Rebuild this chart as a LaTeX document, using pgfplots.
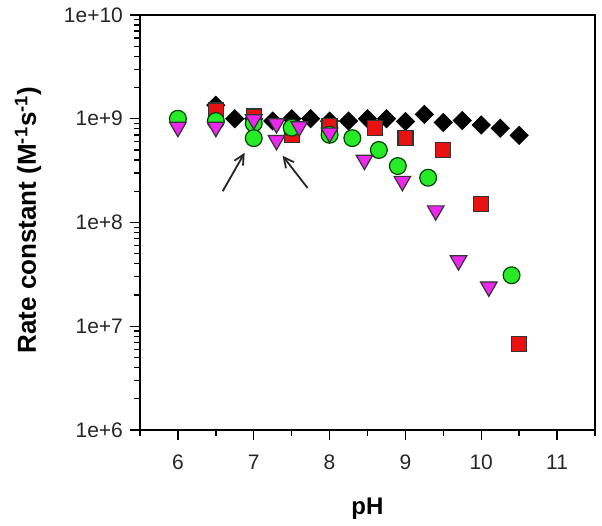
\documentclass[border=0pt]{standalone}
\usepackage{fontspec}
\setmainfont{Liberation Sans}
\usepackage{pgfplots}
\pgfplotsset{compat=1.18}
\usetikzlibrary{arrows.meta}

\definecolor{mkred}{RGB}{232,18,18}
\definecolor{mkgreen}{RGB}{40,235,40}
\definecolor{mkmag}{RGB}{235,40,235}

\begin{document}
\begin{tikzpicture}
\useasboundingbox (-70pt,-48pt) rectangle (231pt,215pt);
\begin{axis}[
    at={(0,0)}, anchor=south west,
    scale only axis,
    width=227.5pt, height=207.5pt,
    xmin=5.5, xmax=11.5,
    ymode=log, ymin=1e6, ymax=1e10,
    xtick={6,...,11},
    minor xtick={5.5,6.5,...,11.5},
    ytick={1e6,1e7,1e8,1e9,1e10},
    yticklabels={1e+6,1e+7,1e+8,1e+9,1e+10},
    minor ytick={2e6,3e6,4e6,5e6,6e6,7e6,8e6,9e6,
                 2e7,3e7,4e7,5e7,6e7,7e7,8e7,9e7,
                 2e8,3e8,4e8,5e8,6e8,7e8,8e8,9e8,
                 2e9,3e9,4e9,5e9,6e9,7e9,8e9,9e9},
    tick pos=left, tick align=outside,
    major tick length=5pt, minor tick length=3pt,
    every tick/.style={black, line width=0.7pt},
    axis line style={line width=0.8pt},
    tick label style={font=\fontsize{10.5}{12}\selectfont, text=black!85},
    xticklabel style={yshift=-4pt},
    /pgf/number format/assume math mode=true,
    xlabel={pH},
    ylabel={Rate constant (M\textsuperscript{-1}s\textsuperscript{-1})},
    label style={font=\fontsize{12}{14}\selectfont\bfseries},
    xlabel style={at={(axis description cs:0.5,-0.19)}, anchor=center},
    ylabel style={at={(axis description cs:-0.246,0.506)}, anchor=center,
        font=\fontsize{13}{15}\selectfont\bfseries},
]

% black diamonds
\addplot[only marks, mark=square*, mark size=3.2pt,
    mark options={rotate=45, fill=black, draw=black}]
    coordinates {
    (6.5,1.35e9)(6.75,1.0e9)(7.0,1.0e9)(7.25,9.5e8)(7.5,1.0e9)(7.75,1.0e9)
    (8.0,9.5e8)(8.25,9.5e8)(8.5,1.0e9)(8.75,1.0e9)(9.0,9.4e8)(9.25,1.1e9)
    (9.5,9.2e8)(9.75,9.6e8)(10.0,8.7e8)(10.25,8.1e8)(10.5,6.9e8)
    };

% red squares
\addplot[only marks, mark=square*, mark size=3.75pt,
    mark options={fill=mkred, draw=black!80, line width=0.6pt}]
    coordinates {
    (6.5,1.2e9)(7.0,1.05e9)(7.5,7.0e8)(8.0,8.5e8)(8.6,8.2e8)(9.0,6.5e8)
    (9.5,5.0e8)(10.0,1.5e8)(10.5,6.8e6)
    };

% green circles
\addplot[only marks, mark=*, mark size=4.2pt,
    mark options={fill=mkgreen, draw=black!75!green, line width=0.6pt}]
    coordinates {
    (6.0,1.0e9)(6.5,9.5e8)(7.0,9.0e8)(7.0,6.5e8)(7.5,8.2e8)(8.0,7.0e8)
    (8.3,6.5e8)(8.65,5.0e8)(8.9,3.5e8)(9.3,2.7e8)(10.4,3.1e7)
    };

% magenta triangles
\addplot[only marks, mark=triangle*, mark size=4.8pt,
    mark options={rotate=180, fill=mkmag, draw=black!80, line width=0.6pt}]
    coordinates {
    (6.0,8.3e8)(6.5,8.3e8)(7.0,9.8e8)(7.3,9.0e8)(7.3,6.2e8)(7.6,8.4e8)
    (8.0,7.3e8)(8.46,4.0e8)(8.96,2.5e8)(9.4,1.3e8)(9.7,4.3e7)(10.1,2.4e7)
    };

\draw[-{Straight Barb[length=5pt,width=5pt]}, line width=0.9pt, black!85]
    (axis cs:6.59,2.0e8) -- (axis cs:6.88,4.7e8);
\draw[-{Straight Barb[length=5pt,width=5pt]}, line width=0.9pt, black!85]
    (axis cs:7.71,2.15e8) -- (axis cs:7.38,4.4e8);

\end{axis}
\end{tikzpicture}
\end{document}
